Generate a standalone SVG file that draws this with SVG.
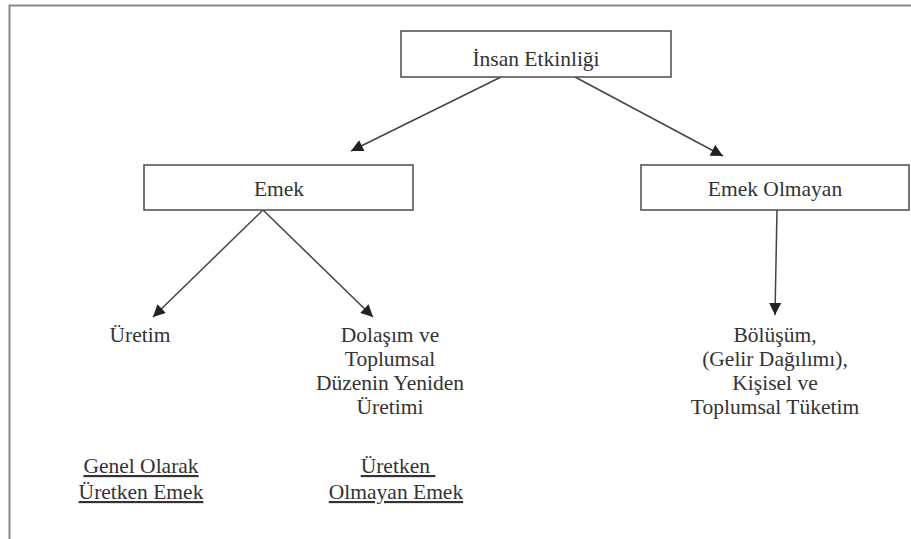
<svg xmlns="http://www.w3.org/2000/svg" width="911" height="539" viewBox="0 0 911 539">
<style>
.box{fill:#fff;stroke:#555;stroke-width:1.6}
.t{font-family:"Liberation Serif","DejaVu Serif",serif;font-size:21.5px;fill:#333;text-anchor:middle}
.u{text-decoration:underline}
.c{stroke:#444;stroke-width:1.5;fill:none;marker-end:url(#ah)}
.frame{stroke:#888;stroke-width:2;fill:none}
</style>
<defs>
<marker id="ah" viewBox="0 0 10 10" refX="10" refY="5" markerWidth="15" markerHeight="12" markerUnits="userSpaceOnUse" orient="auto">
<path d="M0,0 L10,5 L0,10 z" fill="#222"/>
</marker>
</defs>
<rect width="911" height="539" fill="#fff"/>
<path class="frame" d="M9.5,539 V5.5 H911"/>
<g id="connectors">
<line class="c" x1="501" y1="77" x2="351" y2="151"/>
<line class="c" x1="575" y1="77" x2="723" y2="156"/>
<line class="c" x1="263" y1="210" x2="153" y2="317"/>
<line class="c" x1="263" y1="210" x2="373" y2="317"/>
<line class="c" x1="777" y1="210" x2="775" y2="315"/>
</g>
<g id="insan">
<rect class="box" x="401" y="31" width="270" height="46"/>
<text class="t" x="536" y="66">İnsan Etkinliği</text>
</g>
<g id="emek">
<rect class="box" x="144" y="165" width="269" height="45"/>
<text class="t" x="279" y="196">Emek</text>
</g>
<g id="emekolmayan">
<rect class="box" x="641" y="165" width="268" height="45"/>
<text class="t" x="775" y="196">Emek Olmayan</text>
</g>
<g id="uretim">
<text class="t" x="140" y="342">Üretim</text>
</g>
<g id="dolasim">
<text class="t" x="390" y="342">Dolaşım ve</text>
<text class="t" x="390" y="366">Toplumsal</text>
<text class="t" x="390" y="390">Düzenin Yeniden</text>
<text class="t" x="390" y="414">Üretimi</text>
</g>
<g id="bolusum">
<text class="t" x="775" y="342">Bölüşüm,</text>
<text class="t" x="775" y="366">(Gelir Dağılımı),</text>
<text class="t" x="775" y="390">Kişisel ve</text>
<text class="t" x="775" y="414">Toplumsal Tüketim</text>
</g>
<g id="genel">
<text class="t u" x="141" y="473">Genel Olarak</text>
<text class="t u" x="141" y="499">Üretken Emek</text>
</g>
<g id="uretken-olmayan">
<text class="t u" x="398" y="473" xml:space="preserve">Üretken </text>
<text class="t u" x="396" y="499">Olmayan Emek</text>
</g>
</svg>
